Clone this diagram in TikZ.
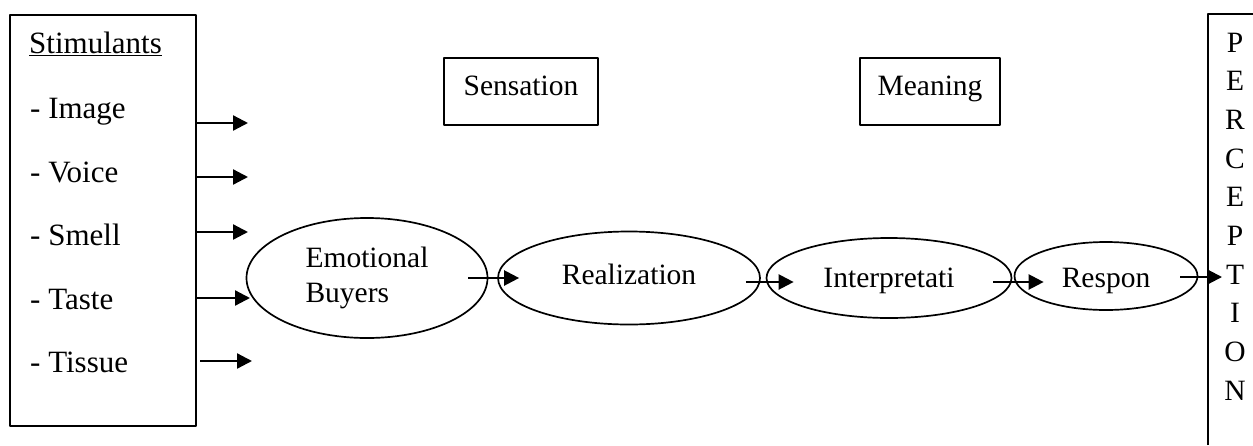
\documentclass[tikz,border=0pt]{standalone}
\usepackage{fontspec}
\setmainfont{Liberation Serif}
\usetikzlibrary{arrows.meta,shapes.geometric}
\begin{document}
\begin{tikzpicture}[x=1pt,y=-1pt,line join=round,font=\fontsize{29.5}{35}\selectfont,>={Triangle[length=15pt,width=15pt]},
        box/.style={draw,line width=1.6pt},
        oval/.style={draw,ellipse,line width=1.7pt,inner sep=0pt},
        txt/.style={anchor=base west,inner sep=0pt,font=\fontsize{31}{35}\selectfont},
        flow/.style={->,line width=2.3pt}]
        \useasboundingbox (0,0) rectangle (1253,445);
        % stimulants
        \node[box,minimum width=186,minimum height=411,anchor=north west] (stimbox) at (9,14) {};
        \node[txt] (stim) at (29,53) {\underline{Stimulants}};
        \foreach \name/\y [count=\i] in {Image/118,Voice/182,Smell/245,Taste/309,Tissue/372}
                \node[txt] (s\i) at (30,\y) {- \name};
        \foreach \y/\xa/\xb [count=\i] in {123/195/248,177/195/248,232/195/248,298/197/250,361/200/252}{
                \coordinate (a\i) at (\xa,\y);
                \coordinate (b\i) at (\xb,\y);
                \draw[flow] (a\i) -- (b\i);
        }
        % labels above
        \node[box,minimum width=154,minimum height=67,text height=19pt,text depth=11pt] (sens) at (521,91.5) {Sensation};
        \node[box,minimum width=140,minimum height=67,text height=19pt,text depth=11pt] (mean) at (930,91.5) {Meaning};
        % chain
        \node[oval,minimum width=241,minimum height=120,align=left] (eb) at (367,278) {Emotional\\Buyers};
        \node[oval,minimum width=262,minimum height=93,text depth=8pt] (real) at (629,278) {Realization};
        \node[oval,minimum width=245,minimum height=80,text height=25pt] (interp) at (889,278) {Interpretati};
        \node[oval,minimum width=183,minimum height=68,text height=30pt] (resp) at (1106,276) {Respon};
        \draw[flow] ([xshift=-20pt]eb.east) -- ([xshift=22pt]real.west);
        \draw[flow] ([xshift=-15pt,yshift=-4pt]real.east) -- ([xshift=28pt,yshift=-4pt]interp.west);
        \draw[flow] ([xshift=-19pt,yshift=-4pt]interp.east) -- ([xshift=30pt,yshift=-6pt]resp.west);
        % perception
        \draw[box] (1208,445) |- (1253,14);
        \coordinate (percep) at (1208,277);
        \draw[flow] ([xshift=-18pt,yshift=-1pt]resp.east) -- ([xshift=14pt]percep);
        \foreach \l [count=\i from 0] in {P,E,R,C,E,P,T,I,O,N}
                \node[anchor=base,inner sep=0pt] (p\i) at (1235,52+38.7*\i) {\l};
\end{tikzpicture}
\end{document}
